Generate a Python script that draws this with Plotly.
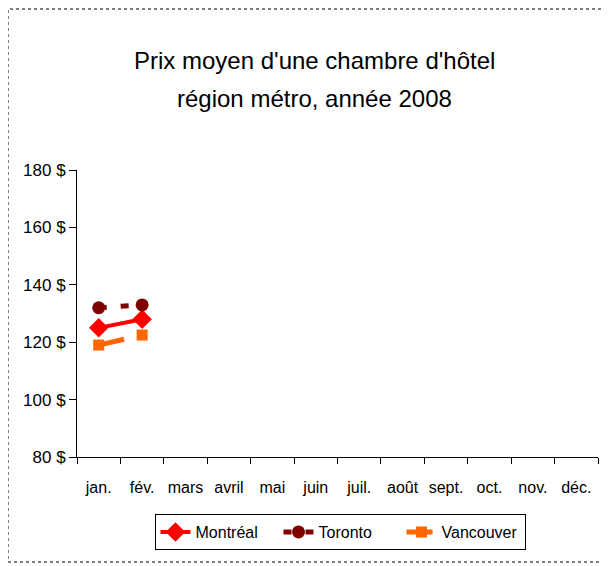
import plotly.graph_objects as go

months = ["jan.", "fév.", "mars", "avril", "mai", "juin", "juil.", "août", "sept.", "oct.", "nov.", "déc."]
montreal = [125, 128]
toronto = [132, 133]
vancouver = [119, 122.5]
y_ticks = [80, 100, 120, 140, 160, 180]
y_tick_labels = ["80 $", "100 $", "120 $", "140 $", "160 $", "180 $"]

FONT = "Liberation Sans Narrow, Arial Narrow, Liberation Sans, Arial, sans-serif"

fig = go.Figure()
fig.add_trace(go.Scatter(
    x=months[:len(montreal)], y=montreal, name="Montréal", mode="lines+markers",
    line=dict(color="#FF0000", width=4),
    marker=dict(symbol="diamond", size=15, color="#FF0000"),
))
fig.add_trace(go.Scatter(
    x=months[:len(toronto)], y=toronto, name="Toronto", mode="lines+markers",
    line=dict(color="#800000", width=5, dash="8px,14px"),
    marker=dict(symbol="circle", size=13, color="#800000"),
))
fig.add_trace(go.Scatter(
    x=months[:len(vancouver)], y=vancouver, name="Vancouver", mode="lines+markers",
    line=dict(color="#FF6600", width=5, dash="26px,14px"),
    marker=dict(symbol="square", size=11, color="#FF6600"),
))

# page is offset by 8px body margin; work in page pixels and convert
OFF = 8
W, H = 602, 558
L, T = 77 - OFF, 170 - OFF
R = W - (598 - OFF)
B = H - (457 - OFF)
pw, ph = W - L - R, H - T - B

def px_x(x):
    return (x - OFF - L) / pw

def px_y(y):
    return (H - B - (y - OFF)) / ph

fig.update_layout(
    width=W, height=H,
    margin=dict(l=L, r=R, t=T, b=B, autoexpand=False),
    paper_bgcolor="white", plot_bgcolor="white",
    font=dict(family=FONT, size=16, color="black"),
    showlegend=True,
    legend=dict(
        orientation="h", x=px_x(340), xanchor="center", y=px_y(532), yanchor="middle",
        bordercolor="black", borderwidth=1, bgcolor="white",
        font=dict(family=FONT, size=16), tracegroupgap=0,
        itemsizing="trace", entrywidth=78, entrywidthmode="pixels",
    ),
    xaxis=dict(
        categoryorder="array", categoryarray=months, tickmode="array", tickvals=months,
        range=[-0.5, 11.5], showgrid=False, zeroline=False,
        showline=True, linecolor="black", linewidth=1,
        ticks="outside", tickson="boundaries", ticklen=6, tickcolor="black",
        tickangle=0, automargin=False, ticklabelstandoff=16,
        tickfont=dict(family=FONT, size=16), fixedrange=True,
    ),
    yaxis=dict(
        range=[80, 180], tickmode="array", tickvals=y_ticks, ticktext=y_tick_labels,
        showgrid=False, zeroline=False, showline=True, linecolor="black", linewidth=1,
        ticks="outside", ticklen=7, tickcolor="black", automargin=False,
        tickfont=dict(family=FONT, size=17),
    ),
    shapes=[dict(
        type="rect", xref="paper", yref="paper",
        x0=px_x(8), x1=px_x(640), y0=px_y(562), y1=px_y(9),
        line=dict(color="black", width=1, dash="dot"), fillcolor="rgba(0,0,0,0)", layer="below",
    )],
    annotations=[
        dict(text="Prix moyen d'une chambre d'hôtel", xref="paper", yref="paper",
             x=px_x(314), y=px_y(60), xanchor="center", yanchor="middle", showarrow=False,
             font=dict(family=FONT, size=24)),
        dict(text="région métro, année 2008", xref="paper", yref="paper",
             x=px_x(314), y=px_y(98), xanchor="center", yanchor="middle", showarrow=False,
             font=dict(family=FONT, size=24)),
    ],
)

fig.write_html("out.html")
